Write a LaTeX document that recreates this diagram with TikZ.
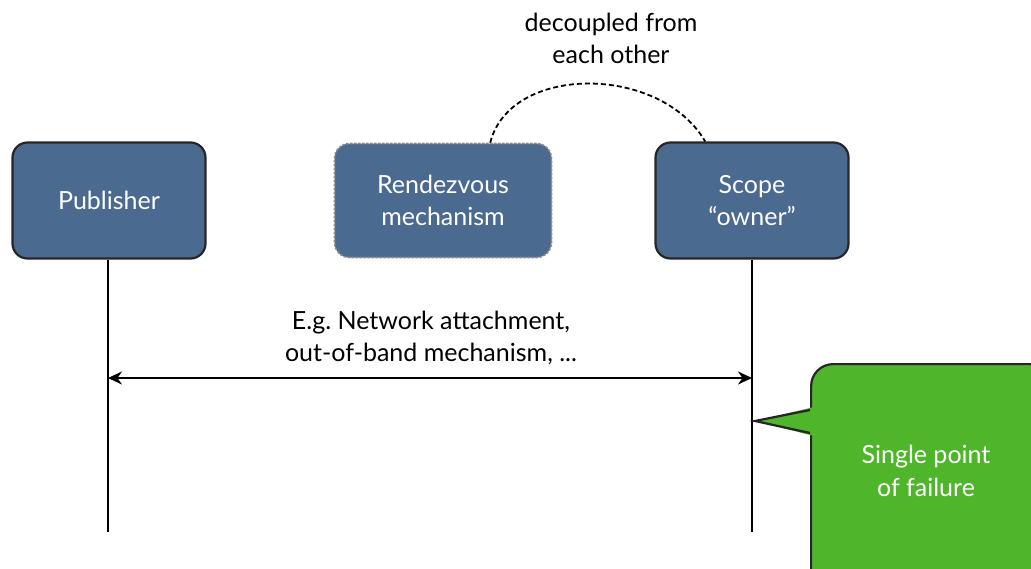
\documentclass[tikz,border=0pt]{standalone}
\usepackage{fontspec}
\setmainfont{Lato}
\usetikzlibrary{arrows.meta,calc}
\definecolor{boxblue}{HTML}{4B6A8F}
\definecolor{callgreen}{HTML}{4FB52B}
\tikzset{
  actor/.style={draw=black!85, line width=2.2pt, fill=boxblue, rounded corners=15pt,
    minimum width=193pt, minimum height=116pt, text=white, font=\fontsize{25}{32}\selectfont, align=center},
  rdvbox/.style={actor, draw=black!45, dashed, dash pattern=on 2.5pt off 1.5pt, line width=1.6pt, minimum width=217pt, minimum height=114pt},
  lifeline/.style={line width=2.4pt, black},
  msg/.style={line width=2.4pt, {Stealth[length=14pt,width=13pt]}-{Stealth[length=14pt,width=13pt]}},
  lbl/.style={font=\fontsize{25}{32}\selectfont, align=center, text=black},
  arcline/.style={line width=1.8pt, dashed, dash pattern=on 5pt off 3pt},
  callout/.style={draw=black!85, line width=2.2pt, fill=callgreen, rounded corners=22pt}
}
\begin{document}
\begin{tikzpicture}[x=1pt,y=-1pt]
\useasboundingbox (0,0) rectangle (1031,568);
\clip (0,0) rectangle (1031,568);
\node[actor] (pub) at (109,200.5) {Publisher};
\node[rdvbox] (rdv) at (443,200.5) {Rendezvous\\mechanism};
\node[actor] (scope) at (752,200.5) {Scope\\``owner''};
\coordinate (pubend) at (108,532);
\coordinate (scopeend) at (752,532);
\draw[lifeline] (pub.south -| pubend) -- (pubend);
\draw[lifeline] (scope.south) -- (scopeend);
\coordinate (ma) at (108,378);
\coordinate (mb) at (752,378);
\draw[msg] (ma) -- (mb);
\node[lbl] (msglbl) at (431,338) {E.g.\ Network attachment,\\out-of-band mechanism, ...};
\node[lbl] (declbl) at (611,38) {decoupled from\\each other};
\coordinate (arcA) at ($(rdv.north west)!0.716!(rdv.north east)$);
\coordinate (arcB) at ($(scope.north west)!0.26!(scope.north east)$);
\draw[arcline] (arcA) .. controls (510,64) and (660,64) .. (arcB);
% callout
\node[callout, minimum width=240pt, minimum height=230pt, anchor=north west] (fail) at (810,363) {};
\node[text=white, font=\fontsize{25}{33}\selectfont, align=center] (failtxt) at (926,471) {Single point\\of failure};
\coordinate (tip) at (755,421);
\fill[callgreen] (tip) -- (814,407) -- (814,436) -- cycle;
\draw[line width=2.2pt, black!85, line join=miter] (810,410) -- (tip) -- (810,433);
\end{tikzpicture}
\end{document}
